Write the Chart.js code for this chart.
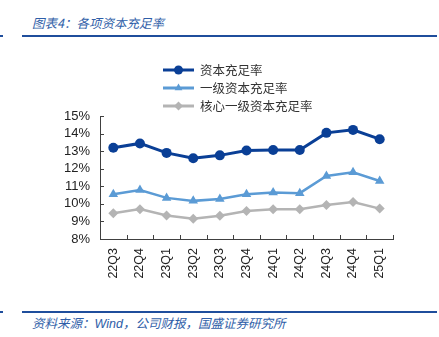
<!DOCTYPE html>
<html>
<head>
<meta charset="utf-8">
<script src="https://cdn.jsdelivr.net/npm/chart.js@4"></script>
<style>
  body { margin: 0; width: 439px; height: 337px; background: #fff; position: relative; overflow: hidden; font-family: "Noto Sans CJK SC", sans-serif; }
  .title { position: absolute; left: 32px; top: 13px; font-size: 12.5px; font-style: italic; color: #2f5ea8; white-space: nowrap; }
  .rule { position: absolute; height: 2px; background: #1f4e9c; }
  .foot { position: absolute; left: 32px; top: 313px; font-size: 12.5px; font-style: italic; color: #2f5ea8; white-space: nowrap; }
  .foot .latin { font-family: "Liberation Sans", Arial, sans-serif; }
  #wrap { position: absolute; left: 0; top: 50px; width: 439px; height: 240px; }
</style>
</head>
<body>
<div class="title">图表4：各项资本充足率</div>
<div class="rule" style="left:0;top:35px;width:3px"></div>
<div class="rule" style="left:22px;top:35px;width:415px"></div>
<div class="rule" style="left:0;top:311px;width:3px"></div>
<div class="rule" style="left:22px;top:311px;width:415px"></div>
<div class="foot">资料来源：<span class="latin">Wind</span>，公司财报，国盛证券研究所</div>
<div id="wrap"><canvas id="myChart"></canvas></div>
<script>
const quarters = ['22Q3', '22Q4', '23Q1', '23Q2', '23Q3', '23Q4', '24Q1', '24Q2', '24Q3', '24Q4', '25Q1'];
const capitalRatio = [13.19, 13.44, 12.90, 12.60, 12.76, 13.04, 13.07, 13.06, 14.04, 14.21, 13.68];
const tier1Ratio = [10.55, 10.79, 10.34, 10.17, 10.28, 10.55, 10.64, 10.61, 11.59, 11.80, 11.30];
const coreTier1Ratio = [9.47, 9.70, 9.34, 9.15, 9.32, 9.59, 9.70, 9.70, 9.93, 10.10, 9.73];
const seriesNames = ['资本充足率', '一级资本充足率', '核心一级资本充足率'];
const yMin = 8, yMax = 15;

const innerTicks = {
    id: 'innerTicks',
    afterDraw(chart) {
        const ctx = chart.ctx, x = chart.scales.x, y = chart.scales.y;
        const area = chart.chartArea;
        ctx.save();
        ctx.strokeStyle = '#404040';
        ctx.lineWidth = 1;
        ctx.beginPath();
        y.ticks.forEach((t, i) => {
            const py = Math.round(y.getPixelForTick(i)) + 0.5;
            ctx.moveTo(area.left, py);
            ctx.lineTo(area.left + 4, py);
        });
        const step = x.getPixelForValue(1) - x.getPixelForValue(0);
        for (let i = 1; i <= quarters.length; i++) {
            const px = Math.round(x.getPixelForValue(0) - step / 2 + i * step) + 0.5;
            ctx.moveTo(px, area.bottom);
            ctx.lineTo(px, area.bottom - 4);
        }
        ctx.stroke();
        ctx.restore();
    }
};

const lineLegend = {
    id: 'lineLegend',
    afterDraw(chart) {
        const ctx = chart.ctx;
        ctx.save();
        chart.data.datasets.forEach((ds, i) => {
            const cy = 20 + i * 18;
            ctx.strokeStyle = ds.borderColor;
            ctx.lineWidth = 3;
            ctx.beginPath();
            ctx.moveTo(163, cy);
            ctx.lineTo(194, cy);
            ctx.stroke();
            ctx.fillStyle = ds.pointBackgroundColor;
            Chart.helpers.drawPoint(ctx, { pointStyle: ds.pointStyle, radius: 4.5, borderWidth: 0 }, 178.5, cy);
            ctx.fillStyle = '#333';
            ctx.font = '12.5px "Noto Sans CJK SC"';
            ctx.textBaseline = 'middle';
            ctx.fillText(ds.label, 200, cy);
        });
        ctx.restore();
    }
};

const makeSet = (label, data, color, style, width) => ({
    label, data,
    borderColor: color,
    backgroundColor: color,
    pointBackgroundColor: color,
    pointBorderColor: color,
    pointStyle: style,
    pointRadius: style === 'triangle' ? 5.5 : 5,
    pointBorderWidth: 0,
    borderWidth: width,
    tension: 0
});

new Chart(document.getElementById('myChart'), {
    type: 'line',
    data: {
        labels: quarters,
        datasets: [
            makeSet(seriesNames[0], capitalRatio, '#0a3f96', 'circle', 3),
            makeSet(seriesNames[1], tier1Ratio, '#5b9bd5', 'triangle', 2.5),
            makeSet(seriesNames[2], coreTier1Ratio, '#b4b4b4', 'rectRot', 2.5)
        ]
    },
    options: {
        responsive: true,
        maintainAspectRatio: false,
        animation: false,
        layout: { padding: { top: 66, right: 46, bottom: 0, left: 0 } },
        plugins: { legend: { display: false }, tooltip: { enabled: false } },
        scales: {
            x: {
                offset: true,
                grid: { display: false, drawTicks: false },
                border: { display: true, color: '#404040', width: 1 },
                ticks: {
                    minRotation: 90, maxRotation: 90, padding: 9, autoSkip: false,
                    color: '#222', font: { family: '"Liberation Sans", Arial', size: 12.5 }
                },
                afterFit(s) { s.height = 51; }
            },
            y: {
                min: yMin, max: yMax,
                grid: { display: false, drawTicks: false },
                border: { display: true, color: '#404040', width: 1 },
                ticks: {
                    stepSize: 1, padding: 10, color: '#222', autoSkip: false,
                    font: { family: '"Liberation Sans", Arial', size: 13 },
                    callback: (v) => v + '%'
                },
                afterFit(s) { s.width = 100; }
            }
        }
    },
    plugins: [innerTicks, lineLegend]
});
</script>
</body>
</html>
